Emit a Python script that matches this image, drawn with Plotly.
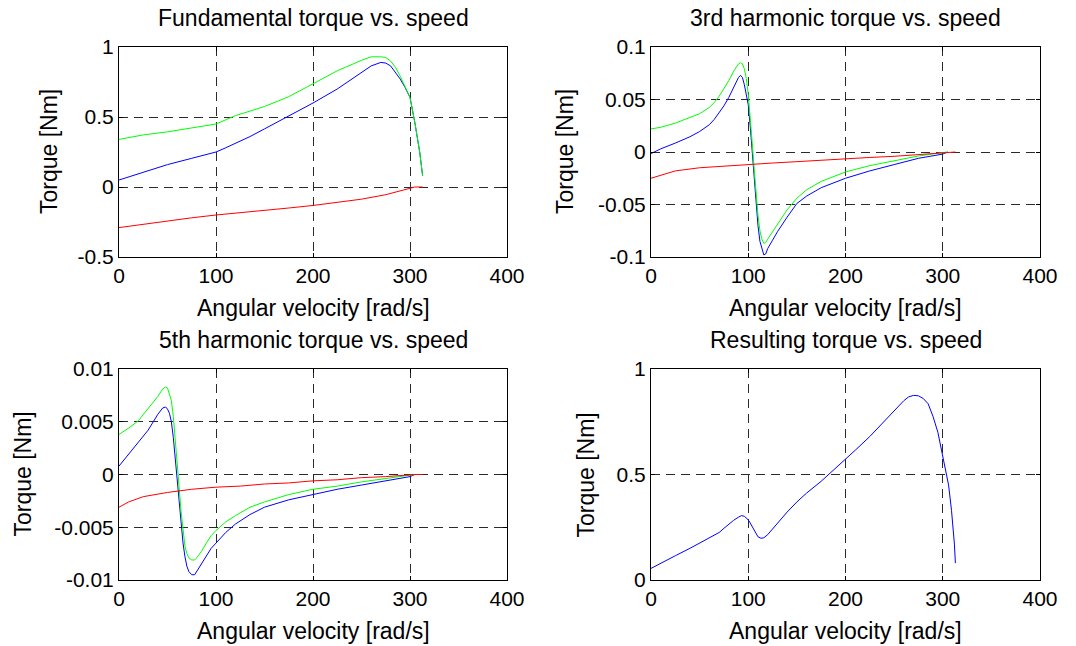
import plotly.graph_objects as go

# ---------------- data ----------------
# Fundamental
x_fund = [0, 25, 50, 75, 100, 110, 120, 135, 150, 175, 200, 225, 250, 260, 270, 275, 280, 285, 290, 295, 300, 305, 310, 313]
fund_blue = [0.05, 0.105, 0.16, 0.205, 0.25, 0.28, 0.31, 0.36, 0.415, 0.505, 0.6, 0.7, 0.82, 0.865, 0.89, 0.885, 0.865, 0.82, 0.77, 0.71, 0.64, 0.46, 0.25, 0.08]
fund_green = [0.34, 0.372, 0.394, 0.423, 0.45, 0.48, 0.51, 0.542, 0.575, 0.645, 0.74, 0.83, 0.905, 0.93, 0.93, 0.925, 0.9, 0.855, 0.79, 0.72, 0.64, 0.46, 0.25, 0.08]
x_fund_red = [0, 25, 50, 75, 100, 125, 150, 175, 200, 225, 250, 275, 300, 305, 313]
fund_red = [-0.29, -0.265, -0.24, -0.22, -0.2, -0.185, -0.165, -0.15, -0.132, -0.11, -0.087, -0.055, -0.007, 0.0, 0.0]

# 3rd harmonic
x_h3 = [0, 10, 25, 40, 50, 60, 65, 70, 75, 80, 85, 88, 90, 92, 94, 96, 98, 100, 102, 104, 106, 108, 110,
        112, 114, 116, 118, 120, 125, 130, 140, 150, 160, 175, 200, 225, 250, 275, 300, 305]
h3_blue = [-0.0015, 0.003, 0.0085, 0.0145, 0.0195, 0.026, 0.031, 0.037, 0.044, 0.052, 0.062, 0.068, 0.071, 0.073,
           0.071, 0.064, 0.055, 0.045, 0.025, 0.0, -0.025, -0.05, -0.07, -0.085, -0.093, -0.098, -0.097, -0.092,
           -0.084, -0.076, -0.062, -0.049, -0.042, -0.034, -0.025, -0.018, -0.012, -0.006, -0.002, 0.0]
h3_green = [0.022, 0.0235, 0.0275, 0.0325, 0.0365, 0.0425, 0.047, 0.053, 0.06, 0.068, 0.077, 0.082, 0.084, 0.085,
            0.084, 0.079, 0.07, 0.055, 0.035, 0.01, -0.015, -0.04, -0.06, -0.075, -0.083, -0.087, -0.086, -0.083,
            -0.076, -0.069, -0.055, -0.044, -0.036, -0.028, -0.019, -0.013, -0.0082, -0.0038, -0.0005, 0.0]
x_h3_red = [0, 10, 25, 50, 75, 100, 125, 150, 175, 200, 225, 250, 275, 300, 305, 313]
h3_red = [-0.025, -0.022, -0.018, -0.015, -0.0133, -0.0117, -0.0105, -0.0092, -0.0077, -0.0063, -0.0052,
          -0.0041, -0.0022, -0.0005, 0.0, 0.0]

# 5th harmonic
x_h5 = [0, 10, 20, 30, 40, 45, 48, 50, 52, 54, 56, 58, 60, 62, 64, 66, 68, 70, 72, 75, 78, 80, 85, 90, 95,
        100, 110, 120, 135, 150, 175, 200, 225, 250, 275, 300, 305]
h5_blue = [0.0008, 0.0019, 0.003, 0.0042, 0.0057, 0.0063, 0.0064, 0.0062, 0.0058, 0.005, 0.0035, 0.0015,
           -0.0005, -0.0025, -0.0048, -0.0065, -0.0078, -0.0087, -0.0092, -0.0095, -0.0095, -0.0092, -0.0085,
           -0.0077, -0.007, -0.0065, -0.0055, -0.0047, -0.0038, -0.0031, -0.0024, -0.0019, -0.0014, -0.001,
           -0.0006, -0.0002, 0.0]
h5_green = [0.0038, 0.0044, 0.0051, 0.0062, 0.0074, 0.0081, 0.0083, 0.0082, 0.0077, 0.007, 0.0055, 0.0035,
            0.0012, -0.0012, -0.0035, -0.0055, -0.0068, -0.0075, -0.0079, -0.0081, -0.0081, -0.0079, -0.0073,
            -0.0065, -0.0058, -0.0053, -0.0045, -0.0039, -0.0031, -0.0026, -0.0019, -0.0014, -0.0011, -0.0007,
            -0.0004, -0.0001, 0.0]
x_h5_red = [0, 10, 25, 50, 75, 100, 125, 150, 175, 200, 225, 250, 275, 300, 305, 313]
h5_red = [-0.0031, -0.0026, -0.0021, -0.0017, -0.0014, -0.0012, -0.0011, -0.0009, -0.0008, -0.0006, -0.0005,
          -0.0003, -0.0002, 0.0, 0.0, 0.0]

# Resulting
x_res = [0, 10, 25, 40, 50, 60, 65, 70, 75, 80, 85, 90, 93, 96, 98, 100, 102, 105, 108, 110, 113, 116, 120,
         125, 130, 140, 150, 160, 175, 190, 200, 210, 225, 240, 250, 260, 265, 270, 275, 280, 285, 290, 295,
         300, 303, 306, 309, 311, 312, 313]
res_blue = [0.055, 0.08, 0.115, 0.15, 0.175, 0.198, 0.21, 0.225, 0.245, 0.265, 0.283, 0.298, 0.305, 0.302,
            0.295, 0.285, 0.27, 0.245, 0.22, 0.205, 0.198, 0.2, 0.215, 0.243, 0.27, 0.322, 0.37, 0.412, 0.468,
            0.53, 0.572, 0.615, 0.68, 0.755, 0.805, 0.85, 0.868, 0.875, 0.873, 0.86, 0.835, 0.775, 0.7, 0.59,
            0.53, 0.45, 0.33, 0.24, 0.17, 0.08]

titles = ["Fundamental torque vs. speed", "3rd harmonic torque vs. speed",
          "5th harmonic torque vs. speed", "Resulting torque vs. speed"]
x_label = "Angular velocity [rad/s]"
y_label = "Torque [Nm]"

x_ticks = [0, 100, 200, 300, 400]
x_ticktext = ["0", "100", "200", "300", "400"]
y_ticks = [
    [-0.5, 0, 0.5, 1],
    [-0.1, -0.05, 0, 0.05, 0.1],
    [-0.01, -0.005, 0, 0.005, 0.01],
    [0, 0.5, 1],
]
y_ticktext = [
    ["-0.5", "0", "0.5", "1"],
    ["-0.1", "-0.05", "0", "0.05", "0.1"],
    ["-0.01", "-0.005", "0", "0.005", "0.01"],
    ["0", "0.5", "1"],
]
y_ranges = [[-0.5, 1], [-0.1, 0.1], [-0.01, 0.01], [0, 1]]

# ---------------- layout helpers ----------------
W, H = 1076, 646
FONT = "Liberation Sans, Arial, sans-serif"
BLUE, GREEN, RED = "#0000FF", "#00FF00", "#FF0000"

# pixel boxes of the 4 axes: (left, right, top, bottom)
boxes = [(119, 507, 47, 257), (651, 1040, 47, 257), (119, 507, 369, 580), (651, 1040, 369, 580)]

fig = go.Figure()

series = [
    [(x_fund, fund_blue, BLUE), (x_fund, fund_green, GREEN), (x_fund_red, fund_red, RED)],
    [(x_h3, h3_blue, BLUE), (x_h3, h3_green, GREEN), (x_h3_red, h3_red, RED)],
    [(x_h5, h5_blue, BLUE), (x_h5, h5_green, GREEN), (x_h5_red, h5_red, RED)],
    [(x_res, res_blue, BLUE)],
]

for i, sl in enumerate(series):
    suffix = "" if i == 0 else str(i + 1)
    for xs, ys, col in sl:
        fig.add_trace(go.Scatter(x=xs, y=ys, mode="lines", line=dict(color=col, width=1),
                                 xaxis="x" + suffix, yaxis="y" + suffix, showlegend=False,
                                 hoverinfo="skip"))

axis_common = dict(showline=True, linecolor="black", linewidth=1, mirror="ticks",
                   ticks="inside", ticklen=4, tickcolor="black",
                   showgrid=True, gridcolor="#2a2a2a", gridwidth=1, griddash="9px,6px",
                   zeroline=False, automargin=False,
                   tickfont=dict(family=FONT, size=21, color="black"),
                   fixedrange=True)

layout = dict(width=W, height=H, margin=dict(l=0, r=0, t=0, b=0, autoexpand=False),
              paper_bgcolor="white", plot_bgcolor="white", showlegend=False,
              font=dict(family=FONT, color="black"))
annotations = []
ylabel_x = [49, 565, 22, 585]
for i, (l, r, t, b) in enumerate(boxes):
    suffix = "" if i == 0 else str(i + 1)
    xd = [l / W, r / W]
    yd = [1 - b / H, 1 - t / H]
    layout["xaxis" + suffix] = dict(axis_common, domain=xd, range=[0, 400], tickvals=x_ticks,
                                    ticktext=x_ticktext, anchor="y" + suffix)
    layout["yaxis" + suffix] = dict(axis_common, domain=yd, range=y_ranges[i], tickvals=y_ticks[i],
                                    ticktext=y_ticktext[i], anchor="x" + suffix)
    cx = (l + r) / 2 / W
    annotations.append(dict(text=titles[i], x=cx, y=1 - (t - 29) / H, xref="paper", yref="paper",
                            xanchor="center", yanchor="middle", showarrow=False,
                            font=dict(family=FONT, size=23, color="black")))
    annotations.append(dict(text=x_label, x=cx, y=1 - (b + 51) / H, xref="paper", yref="paper",
                            xanchor="center", yanchor="middle", showarrow=False,
                            font=dict(family=FONT, size=23, color="black")))
    annotations.append(dict(text=y_label, x=ylabel_x[i] / W, y=1 - (t + b) / 2 / H, xref="paper",
                            yref="paper", xanchor="center", yanchor="middle", showarrow=False,
                            textangle=-90, font=dict(family=FONT, size=23, color="black")))
layout["annotations"] = annotations
fig.update_layout(**layout)

fig.write_html("out.html")
